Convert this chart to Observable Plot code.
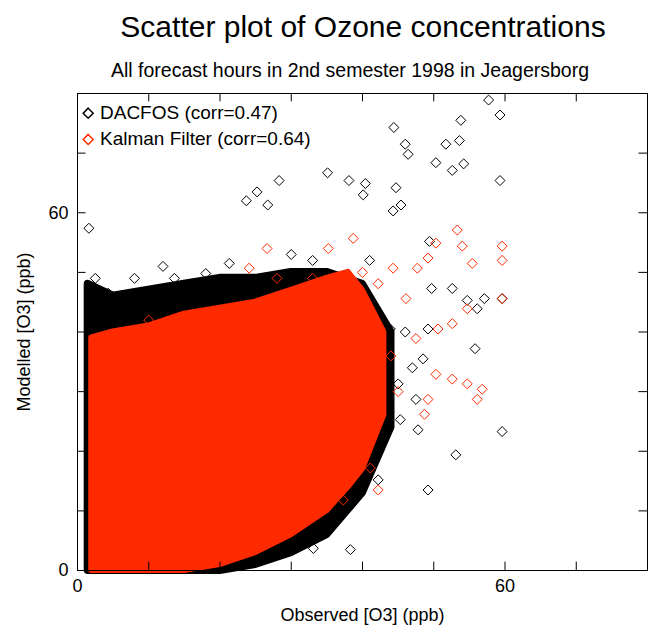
<!DOCTYPE html>
<html><head><meta charset="utf-8">
<script src="https://cdn.jsdelivr.net/npm/d3@7"></script>
<script src="https://cdn.jsdelivr.net/npm/@observablehq/plot@0.6"></script>
<style>
body{margin:0;font-family:"Liberation Sans",Arial,sans-serif;background:#fff}
#wrap{position:relative;width:650px;height:628px}
.t{position:absolute;white-space:nowrap}
</style></head><body>
<div id="wrap">
<div class="t" style="left:0;width:726px;text-align:center;top:10px;font-size:30px">Scatter plot of Ozone concentrations</div>
<div class="t" style="left:0;width:700px;text-align:center;top:59px;font-size:19.5px">All forecast hours in 2nd semester 1998 in Jeagersborg</div>
<div class="t" style="left:100px;top:102px;font-size:19px">DACFOS (corr=0.47)</div>
<div class="t" style="left:100px;top:128px;font-size:19px">Kalman Filter (corr=0.64)</div>
</div>
<script>
const ticks = [0,10,20,30,40,50,60,70,80];
const tickLabels = [0,60];
// envelopes of the dense clouds: [observed, low, high]
const blackCore = [[1.5,0,48],[5,0,46],[10,0,47],[15,0,48],[20,0,49],[25,1,49],[30,3,50],[35,6,50],[40,13,48],[44,24,40]];
const redCore = [[2,0,39],[5,0,40],[10,0,41],[15,0,43],[20,1,44],[25,3,45],[30,6,47],[35,10,49],[38,14,50],[40,17,47],[43,26,40]];
const blackPts = [[57.7,78.9],[59.3,76.4],[44.4,74.3],[53.8,75.5],[53.6,72.1],[46,71.5],[46.4,69.8],[50.3,68.4],[54.2,68.2],[52.6,67.1],[59.3,65.4],[51.7,71.5],[28.3,65.4],[35.1,66.7],[38.1,65.4],[40.4,64.9],[44.7,64.2],[45.4,61.3],[25.2,63.5],[23.7,62],[1.6,57.4],[26.7,61.3],[40.1,63],[44.3,60.3],[49.4,55.2],[52.6,47.3],[54.7,45.3],[56.1,43.9],[57.1,45.6],[49.7,47.3],[49.2,40.5],[55.8,37.2],[48.5,35.5],[47.5,28.7],[47.8,23.6],[53.1,19.4],[59.6,23.3],[49.2,13.5],[38.3,3.5],[33.1,3.7],[21.3,51.5],[18,49.8],[13.6,49],[10.2,42.6],[4.3,46.5],[3.2,44.8],[59.6,45.6],[43.9,40.5],[45,31.3],[45.3,25.3],[42.2,15.2],[40.1,16.9],[29.7,4.2],[21.6,2.5],[14.3,0.3],[36,8],[38,12],[34,6],[42,20],[41,52],[30,53],[33,52],[12,51],[8,49],[2.5,49],[46,40],[47,34]];
const redPts = [[59.6,54.4],[59.6,52],[54,54.4],[53.3,57.1],[50.3,54.9],[49.2,52.4],[55.4,51.5],[59.6,45.6],[54.7,43.9],[52.6,41.4],[50.6,40.5],[47.7,50.7],[44.3,50.7],[42.2,48.1],[46.1,45.6],[47.5,38.9],[50.3,32.9],[52.6,32.1],[54.7,31.3],[56.8,30.4],[56.1,28.7],[49.2,28.7],[48.7,26.2],[41.1,17.2],[42.2,13.5],[37.3,11.8],[35.2,11],[24.1,5.1],[26.6,54],[24.1,50.7],[38.7,55.7],[35.2,54],[40,50],[44,36],[45,30],[41,25],[39,19],[33,49],[28,49],[6,40],[10,42]];

const core = (arr) => arr.map(([x,lo,hi]) => ({x, lo, hi}));
const pts = (arr) => arr.map(([x,y]) => ({x, y}));
const chart = Plot.plot({
  width: 650, height: 628,
  marginTop: 93, marginBottom: 58, marginLeft: 77, marginRight: 3,
  x: {domain: [0,80], ticks: tickLabels, tickSize: 0, tickFormat: d => d, label: "Observed [O3] (ppb)", labelAnchor: "center", labelArrow: "none", labelOffset: 50},
  y: {domain: [0,80], ticks: tickLabels, tickSize: 0, tickFormat: d => d, label: "Modelled [O3] (ppb)", labelAnchor: "center", labelArrow: "none", labelOffset: 60},
  style: {fontSize: "18px", fontFamily: "Liberation Sans, Arial, sans-serif"},
  marks: [
    Plot.areaY(core(blackCore), {x: "x", y1: "lo", y2: "hi", fill: "black", stroke: "black", strokeWidth: 8}),
    Plot.dot(pts(blackPts), {x: "x", y: "y", symbol: "diamond2", r: 4.5, stroke: "black", strokeWidth: 1}),
    Plot.areaY(core(redCore), {x: "x", y1: "lo", y2: "hi", fill: "#ff2a00", stroke: "#ff2a00", strokeWidth: 6}),
    Plot.dot(pts(redPts), {x: "x", y: "y", symbol: "diamond2", r: 4.5, stroke: "#ff2a00", strokeWidth: 1}),
    Plot.dot([{x:0,y:0}], {x: () => 1.5, y: () => 76.7, symbol: "diamond2", r: 4.5, stroke: "black"}),
    Plot.dot([{x:0,y:0}], {x: () => 1.5, y: () => 72.3, symbol: "diamond2", r: 4.5, stroke: "#ff2a00"}),
    Plot.ruleX(ticks, {x: d => d, y1: 0, y2: 1.4, stroke: "black"}),
    Plot.ruleX(ticks, {x: d => d, y1: 80, y2: 78.6, stroke: "black"}),
    Plot.ruleY(ticks, {y: d => d, x1: 0, x2: 1.2, stroke: "black"}),
    Plot.ruleY(ticks, {y: d => d, x1: 80, x2: 78.8, stroke: "black"}),
    Plot.frame({stroke: "black"})
  ]
});
chart.style.position = "absolute"; chart.style.left = "0"; chart.style.top = "0";
document.getElementById("wrap").prepend(chart);
</script>
</body></html>
